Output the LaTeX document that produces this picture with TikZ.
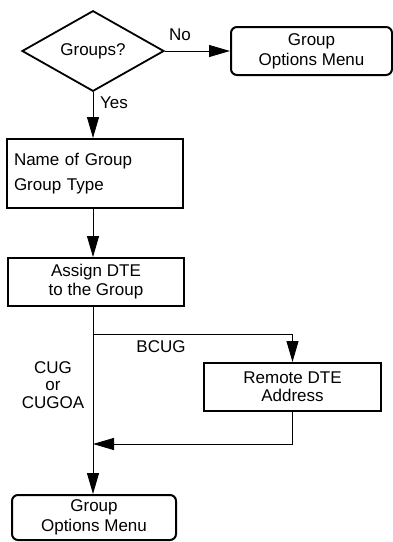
\documentclass[tikz,border=0pt]{standalone}
\usepackage{fontspec}
\setmainfont{Liberation Sans}
\usetikzlibrary{shapes.geometric,arrows.meta}
\begin{document}
\begin{tikzpicture}[
                x=1pt, y=-1pt,
                font=\fontsize{17}{20}\selectfont,
                grpFlow/.style={draw=black,line width=0.9pt},
                grpArrow/.style={grpFlow,-{Triangle[length=21pt,width=12pt]}},
                grpBox/.style={draw=black,line width=2pt,rectangle,
                               inner sep=0pt,align=center},
                grpMenu/.style={grpBox,rounded corners=6pt},
                grpAsk/.style={draw=black,line width=1.8pt,diamond,inner sep=0pt,
                               minimum width=142pt,minimum height=77pt}]
                \useasboundingbox (0,0) rectangle (393,542);
                % decision and menus
                \node[grpAsk] (ask) at (93,51) {Groups?};
                \node[grpMenu,minimum width=161pt,minimum height=48pt] (menuTop) at (311.5,51)
                    {Group\\Options Menu};
                \node[grpBox,minimum width=176pt,minimum height=69pt,text width=162pt,
                      align=left,font=\fontsize{17}{25}\selectfont] (grpName) at (95,173.5)
                    {Name of Group\\Group Type};
                \node[grpBox,minimum width=176pt,minimum height=48pt,
                      font=\fontsize{17}{19}\selectfont] (grpAssign) at (96,282)
                    {Assign DTE\\to the Group};
                \node[grpBox,minimum width=177pt,minimum height=48pt,
                      font=\fontsize{17}{18}\selectfont] (grpRemote) at (292.5,387)
                    {Remote DTE\\Address};
                \node[grpMenu,minimum width=164pt,minimum height=45pt] (menuBot) at (94,517.5)
                    {Group\\Options Menu};
                % branch points on the main line
                \coordinate (split) at (93,334);
                \coordinate (join) at (93,444);
                % connectors
                \draw[grpArrow] (ask.east) -- (menuTop.west);
                \draw[grpArrow] (ask.south) -- (ask.south |- grpName.north);
                \draw[grpArrow] (ask.south |- grpName.south) -- (ask.south |- grpAssign.north);
                \draw[grpArrow] (ask.south |- grpAssign.south) -- (ask.south |- menuBot.north);
                \draw[grpArrow] (split) -| (grpRemote.north);
                \draw[grpArrow] (grpRemote.south) |- (join);
                % labels
                \node (lblNo) at (180,35) {No};
                \node (lblYes) at (114,103) {Yes};
                \node (lblBcug) at (161,347) {BCUG};
                \node[align=center,font=\fontsize{17}{17.5}\selectfont] (lblCug) at (53,385)
                    {CUG\\or\\CUGOA};
            \end{tikzpicture}
\end{document}
